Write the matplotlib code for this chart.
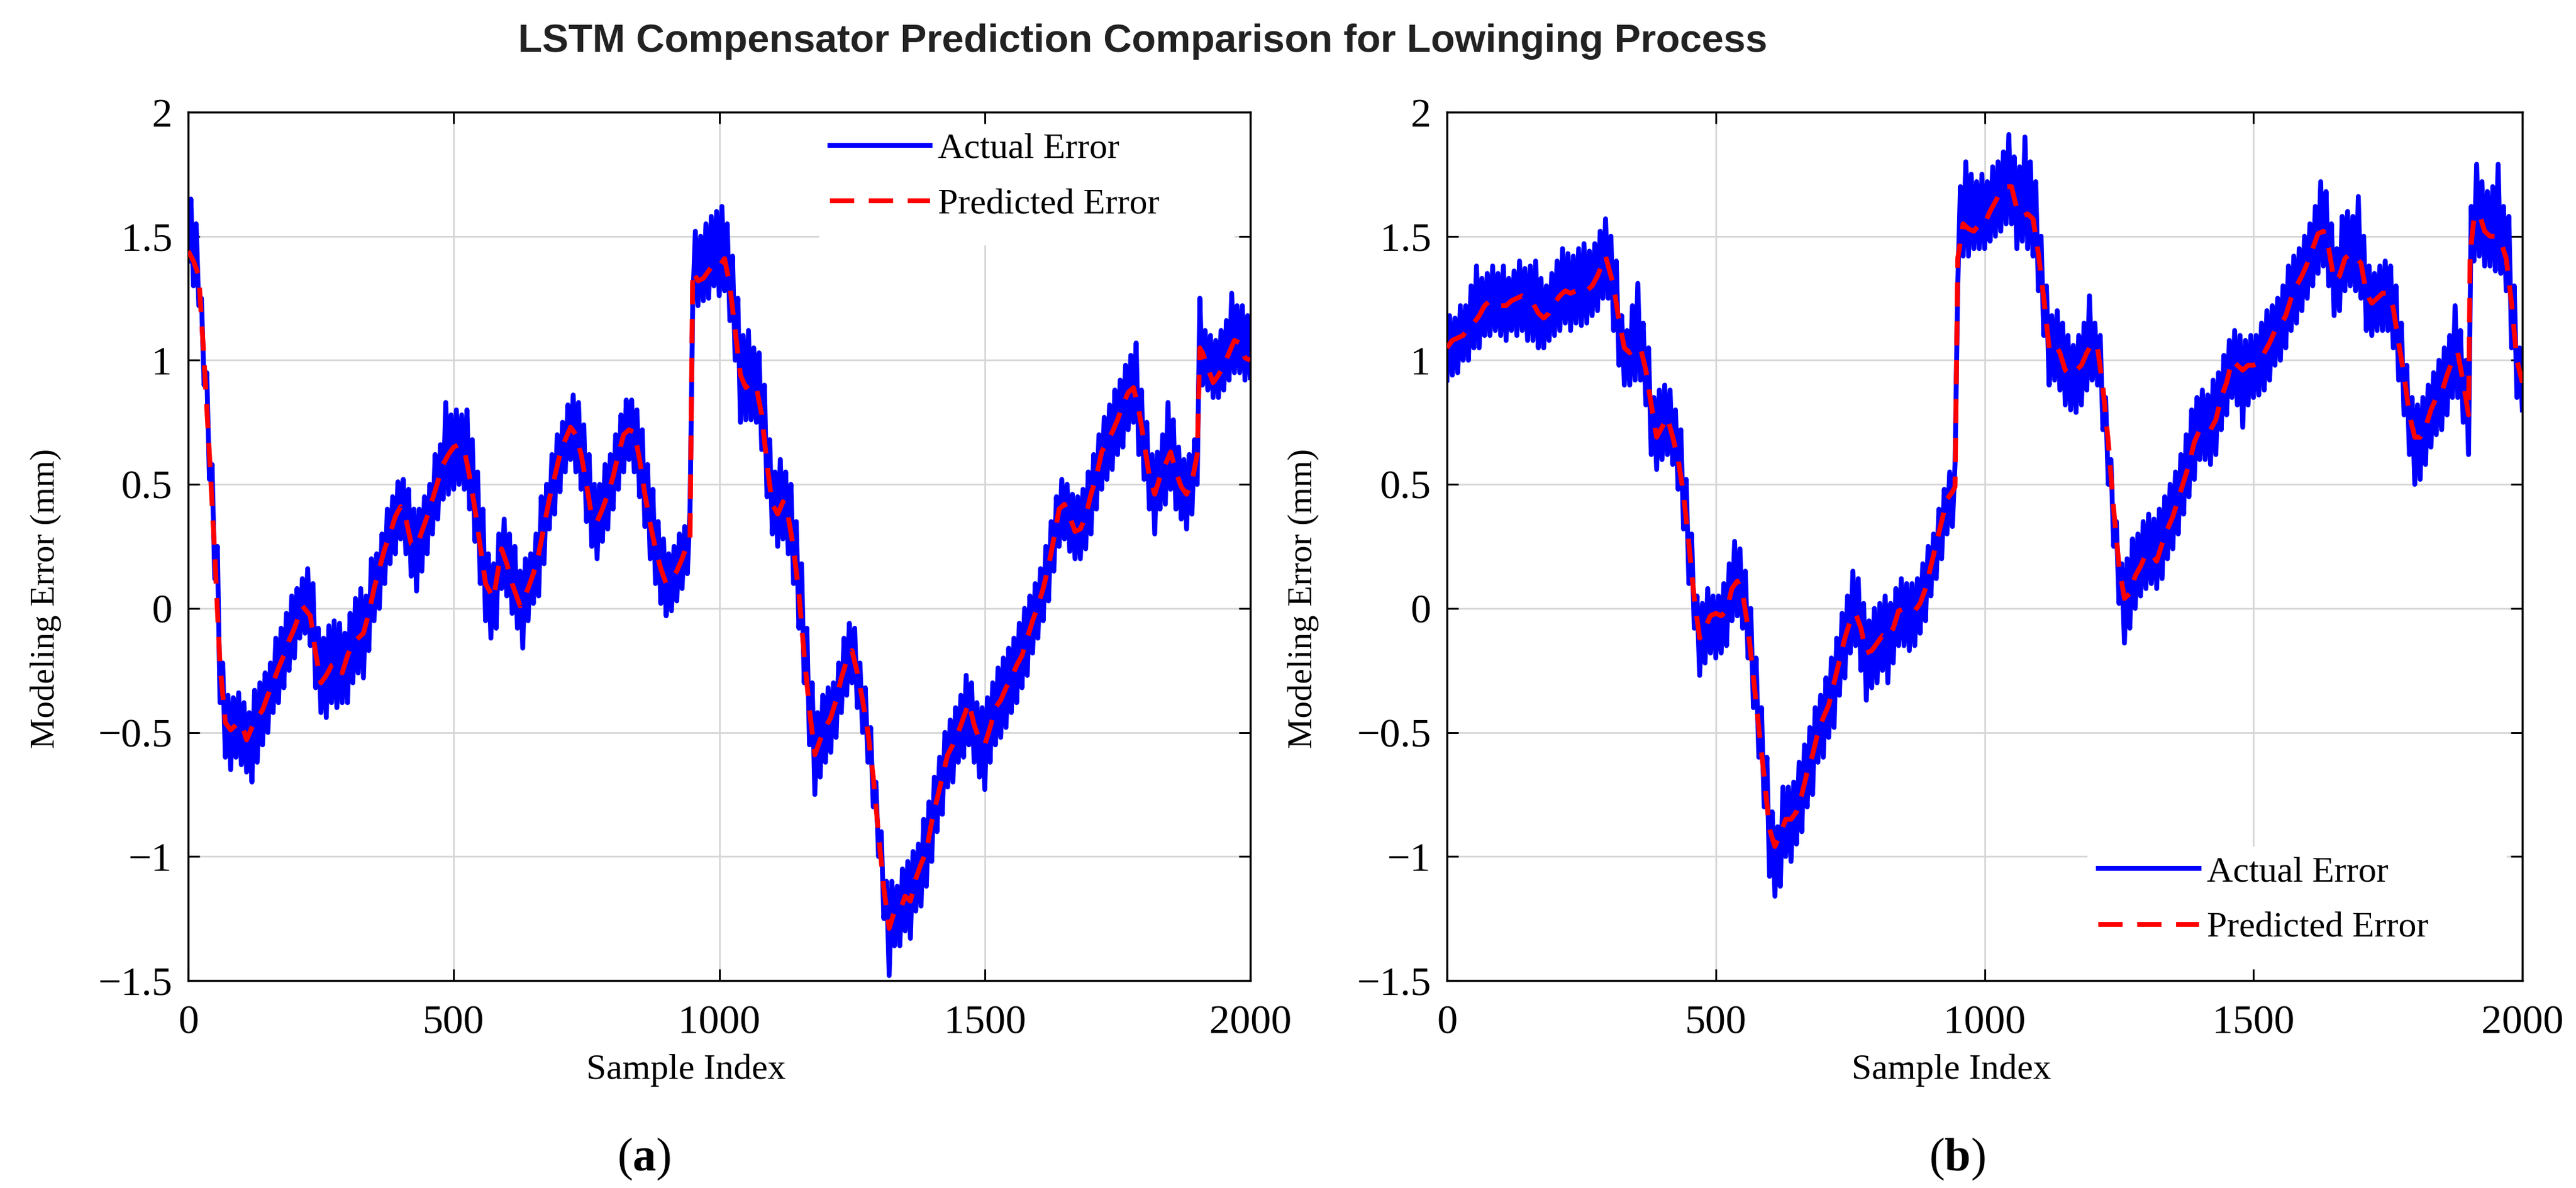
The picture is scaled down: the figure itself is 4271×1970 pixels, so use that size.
import numpy as np
import matplotlib
matplotlib.use('Agg')
import matplotlib.pyplot as plt
from matplotlib.patches import Rectangle
from matplotlib.ticker import FuncFormatter

plt.rcParams['font.family'] = ['Liberation Serif', 'DejaVu Serif']
plt.rcParams['mathtext.fontset'] = 'custom'
plt.rcParams['mathtext.rm'] = 'Liberation Serif'
plt.rcParams['mathtext.bf'] = 'Liberation Serif:bold'

title = 'LSTM Compensator Prediction Comparison for Lowinging Process'
x_ticks = [0, 500, 1000, 1500, 2000]
y_ticks = [-1.5, -1, -0.5, 0, 0.5, 1, 1.5, 2]

# actual error: the noisy trace swings between the lower edge of its band
# (read at samples 0, 10, 20, ...) and the upper edge (samples 5, 15, 25, ...)
actual_a_lo = [
    1.40, 1.30, 1.22, 0.90, 0.52, 0.12, -0.38, -0.60, -0.65, -0.60,
    -0.63, -0.66, -0.70, -0.62, -0.55, -0.50, -0.42, -0.38, -0.32, -0.25,
    -0.20, -0.12, -0.10, -0.15, -0.32, -0.42, -0.44, -0.38, -0.40, -0.38,
    -0.38, -0.30, -0.26, -0.28, -0.17, -0.05, 0.00, 0.10, 0.18, 0.22,
    0.28, 0.22, 0.13, 0.07, 0.15, 0.22, 0.30, 0.36, 0.44, 0.46,
    0.48, 0.50, 0.48, 0.40, 0.27, 0.10, -0.05, -0.12, -0.08, 0.08,
    0.05, -0.02, -0.08, -0.16, -0.05, 0.02, 0.05, 0.18, 0.32, 0.38,
    0.47, 0.55, 0.60, 0.55, 0.48, 0.35, 0.25, 0.20, 0.27, 0.32,
    0.40, 0.48, 0.55, 0.60, 0.55, 0.45, 0.33, 0.20, 0.10, 0.02,
    -0.03, -0.01, 0.03, 0.08, 0.14, 1.22, 1.22, 1.24, 1.25, 1.30,
    1.26, 1.28, 1.16, 1.00, 0.75, 0.76, 0.76, 0.75, 0.64, 0.45,
    0.30, 0.25, 0.28, 0.22, 0.10, -0.08, -0.30, -0.55, -0.75, -0.68,
    -0.62, -0.58, -0.52, -0.42, -0.35, -0.30, -0.40, -0.50, -0.62, -0.80,
    -1.00, -1.25, -1.48, -1.36, -1.36, -1.30, -1.33, -1.22, -1.20, -1.12,
    -1.02, -0.90, -0.83, -0.72, -0.70, -0.62, -0.60, -0.55, -0.62, -0.68,
    -0.73, -0.62, -0.55, -0.52, -0.48, -0.42, -0.38, -0.32, -0.27, -0.18,
    -0.12, -0.05, 0.03, 0.15, 0.25, 0.28, 0.23, 0.20, 0.20, 0.24,
    0.30, 0.40, 0.48, 0.52, 0.56, 0.62, 0.65, 0.72, 0.75, 0.62,
    0.52, 0.40, 0.30, 0.40, 0.42, 0.48, 0.40, 0.36, 0.32, 0.38,
    0.50, 0.90, 0.88, 0.85, 0.85, 0.88, 0.92, 0.95, 0.95, 0.92,
    0.93,
]
actual_a_hi = [
    1.65, 1.55, 1.25, 0.95, 0.58, 0.25, -0.22, -0.35, -0.36, -0.34,
    -0.38, -0.42, -0.33, -0.30, -0.26, -0.22, -0.12, -0.08, -0.02, 0.05,
    0.08, 0.12, 0.16, 0.10, -0.08, -0.12, -0.07, -0.05, -0.06, -0.10,
    -0.02, 0.04, 0.08, 0.05, 0.20, 0.22, 0.30, 0.40, 0.45, 0.51,
    0.52, 0.48, 0.40, 0.40, 0.45, 0.50, 0.62, 0.66, 0.83, 0.78,
    0.80, 0.78, 0.80, 0.68, 0.55, 0.40, 0.22, 0.18, 0.30, 0.36,
    0.30, 0.25, 0.15, 0.20, 0.22, 0.30, 0.45, 0.50, 0.62, 0.70,
    0.75, 0.82, 0.86, 0.83, 0.74, 0.62, 0.50, 0.50, 0.58, 0.62,
    0.70, 0.78, 0.84, 0.84, 0.80, 0.72, 0.58, 0.48, 0.35, 0.28,
    0.22, 0.25, 0.30, 0.33, 0.40, 1.52, 1.50, 1.55, 1.58, 1.60,
    1.62, 1.55, 1.42, 1.25, 1.10, 1.12, 1.05, 1.03, 0.90, 0.68,
    0.55, 0.60, 0.55, 0.50, 0.35, 0.18, -0.08, -0.30, -0.42, -0.35,
    -0.32, -0.30, -0.22, -0.12, -0.06, -0.08, -0.22, -0.32, -0.48, -0.70,
    -0.90, -1.10, -1.10, -1.12, -1.05, -1.02, -0.98, -0.95, -0.85, -0.78,
    -0.68, -0.60, -0.50, -0.45, -0.40, -0.35, -0.27, -0.30, -0.38, -0.40,
    -0.36, -0.30, -0.24, -0.20, -0.16, -0.12, -0.06, 0.00, 0.05, 0.10,
    0.16, 0.25, 0.35, 0.45, 0.52, 0.50, 0.46, 0.45, 0.48, 0.55,
    0.62, 0.70, 0.77, 0.82, 0.88, 0.92, 0.98, 1.02, 1.07, 0.88,
    0.75, 0.62, 0.63, 0.70, 0.83, 0.76, 0.65, 0.60, 0.62, 0.68,
    1.25, 1.12, 1.10, 1.08, 1.12, 1.16, 1.27, 1.22, 1.22, 1.18,
]

actual_b_lo = [
    0.92, 0.94, 0.95, 1.00, 1.00, 1.05, 1.05, 1.10, 1.10, 1.12,
    1.10, 1.08, 1.12, 1.10, 1.12, 1.08, 1.08, 1.05, 1.05, 1.08,
    1.10, 1.12, 1.15, 1.12, 1.15, 1.14, 1.15, 1.18, 1.20, 1.25,
    1.25, 1.12, 0.98, 0.90, 0.90, 0.92, 0.92, 0.82, 0.62, 0.56,
    0.60, 0.62, 0.58, 0.48, 0.32, 0.10, -0.08, -0.27, -0.22, -0.18,
    -0.20, -0.18, -0.15, -0.05, -0.03, -0.08, -0.20, -0.40, -0.60, -0.80,
    -1.08, -1.16, -1.12, -1.00, -1.02, -0.95, -0.90, -0.80, -0.75, -0.62,
    -0.60, -0.52, -0.48, -0.35, -0.28, -0.18, -0.15, -0.25, -0.37, -0.32,
    -0.30, -0.25, -0.30, -0.22, -0.15, -0.15, -0.17, -0.15, -0.10, -0.05,
    0.05, 0.12, 0.20, 0.30, 0.33, 1.30, 1.42, 1.42, 1.45, 1.45,
    1.45, 1.48, 1.50, 1.52, 1.55, 1.55, 1.45, 1.48, 1.45, 1.42,
    1.28, 1.10, 0.90, 0.92, 0.88, 0.82, 0.80, 0.79, 0.82, 0.88,
    0.92, 0.90, 0.72, 0.50, 0.25, 0.02, -0.14, -0.08, 0.00, 0.05,
    0.08, 0.10, 0.08, 0.12, 0.20, 0.24, 0.30, 0.38, 0.45, 0.52,
    0.60, 0.60, 0.58, 0.62, 0.72, 0.78, 0.85, 0.82, 0.73, 0.82,
    0.85, 0.86, 0.88, 0.92, 0.98, 1.00, 1.05, 1.12, 1.15, 1.20,
    1.25, 1.30, 1.35, 1.38, 1.30, 1.18, 1.20, 1.28, 1.30, 1.28,
    1.25, 1.12, 1.10, 1.12, 1.12, 1.12, 1.05, 0.92, 0.78, 0.62,
    0.50, 0.52, 0.58, 0.65, 0.70, 0.72, 0.78, 0.85, 0.85, 0.75,
    0.62, 1.40, 1.42, 1.38, 1.38, 1.36, 1.35, 1.28, 1.05, 0.85,
    0.80,
]
actual_b_hi = [
    1.18, 1.17, 1.22, 1.22, 1.30, 1.38, 1.33, 1.35, 1.38, 1.35,
    1.38, 1.33, 1.36, 1.40, 1.37, 1.38, 1.40, 1.33, 1.30, 1.35,
    1.40, 1.45, 1.43, 1.42, 1.45, 1.47, 1.44, 1.47, 1.52, 1.57,
    1.50, 1.40, 1.18, 1.12, 1.22, 1.31, 1.15, 1.05, 0.85, 0.88,
    0.90, 0.88, 0.80, 0.72, 0.52, 0.30, 0.05, 0.02, 0.08, 0.05,
    0.05, 0.10, 0.18, 0.27, 0.24, 0.15, 0.00, -0.20, -0.40, -0.60,
    -0.82, -0.88, -0.72, -0.72, -0.70, -0.62, -0.55, -0.48, -0.40, -0.35,
    -0.28, -0.20, -0.12, -0.02, 0.05, 0.15, 0.12, 0.02, -0.05, 0.00,
    0.02, 0.05, 0.02, 0.08, 0.12, 0.10, 0.10, 0.12, 0.18, 0.25,
    0.30, 0.40, 0.48, 0.55, 0.58, 1.70, 1.80, 1.75, 1.72, 1.75,
    1.72, 1.78, 1.80, 1.84, 1.91, 1.82, 1.78, 1.90, 1.80, 1.72,
    1.50, 1.30, 1.18, 1.20, 1.15, 1.10, 1.06, 1.10, 1.15, 1.26,
    1.15, 1.10, 0.85, 0.60, 0.35, 0.18, 0.20, 0.28, 0.30, 0.35,
    0.38, 0.36, 0.40, 0.45, 0.50, 0.55, 0.62, 0.70, 0.80, 0.85,
    0.88, 0.86, 0.92, 0.95, 1.02, 1.08, 1.12, 1.10, 1.08, 1.10,
    1.10, 1.15, 1.20, 1.22, 1.25, 1.30, 1.38, 1.42, 1.45, 1.50,
    1.55, 1.62, 1.72, 1.68, 1.55, 1.45, 1.58, 1.60, 1.58, 1.66,
    1.50, 1.38, 1.35, 1.38, 1.40, 1.38, 1.30, 1.15, 0.98, 0.85,
    0.82, 0.85, 0.90, 0.95, 1.00, 1.05, 1.10, 1.22, 1.12, 1.00,
    1.62, 1.79, 1.72, 1.68, 1.70, 1.79, 1.62, 1.58, 1.30, 1.05,
]

# predicted error (sample, value)
pred_a = [
    (0, 1.44), (10, 1.40), (20, 1.34), (30, 1.00), (40, 0.62), (50, 0.22), (60, -0.23),
    (70, -0.46), (80, -0.49), (90, -0.47), (100, -0.46), (110, -0.53), (120, -0.48),
    (130, -0.44), (140, -0.41), (150, -0.35), (160, -0.30), (170, -0.24), (180, -0.19),
    (190, -0.13), (200, -0.08), (215, 0.01), (230, -0.03), (240, -0.18), (250, -0.30),
    (260, -0.27), (270, -0.23), (280, -0.22), (290, -0.26), (300, -0.19), (310, -0.14),
    (320, -0.12), (330, -0.10), (340, -0.02), (350, 0.08), (360, 0.16), (370, 0.24),
    (380, 0.30), (390, 0.37), (400, 0.41), (410, 0.36), (420, 0.26), (430, 0.25),
    (440, 0.31), (450, 0.37), (460, 0.44), (470, 0.51), (480, 0.58), (490, 0.62),
    (500, 0.65), (510, 0.66), (520, 0.64), (530, 0.53), (540, 0.40), (550, 0.25),
    (560, 0.10), (575, 0.04), (590, 0.24), (600, 0.18), (610, 0.10), (625, 0.01),
    (640, 0.08), (650, 0.14), (660, 0.22), (670, 0.33), (680, 0.44), (690, 0.53),
    (700, 0.62), (710, 0.68), (720, 0.73), (730, 0.70), (740, 0.62), (750, 0.50),
    (760, 0.37), (770, 0.35), (780, 0.40), (790, 0.46), (800, 0.53), (810, 0.62),
    (820, 0.70), (830, 0.72), (840, 0.71), (850, 0.60), (860, 0.46), (870, 0.34),
    (880, 0.24), (890, 0.16), (900, 0.10), (910, 0.12), (920, 0.15), (930, 0.20),
    (940, 0.26), (945, 0.28), (950, 1.36), (960, 1.32), (970, 1.33), (980, 1.36),
    (990, 1.39), (1000, 1.38), (1010, 1.41), (1020, 1.30), (1030, 1.12), (1040, 0.94),
    (1050, 0.89), (1060, 0.91), (1070, 0.89), (1080, 0.78), (1090, 0.58), (1100, 0.42),
    (1110, 0.38), (1120, 0.43), (1130, 0.37), (1140, 0.24), (1150, 0.06), (1160, -0.19),
    (1170, -0.41), (1180, -0.59), (1190, -0.53), (1200, -0.48), (1210, -0.44),
    (1220, -0.37), (1230, -0.28), (1240, -0.21), (1250, -0.17), (1260, -0.26),
    (1270, -0.37), (1280, -0.50), (1290, -0.68), (1300, -0.91), (1310, -1.13),
    (1320, -1.29), (1330, -1.22), (1340, -1.22), (1350, -1.16), (1360, -1.18),
    (1370, -1.09), (1380, -1.03), (1390, -0.98), (1400, -0.86), (1410, -0.77),
    (1420, -0.68), (1430, -0.59), (1440, -0.55), (1450, -0.50), (1460, -0.44),
    (1470, -0.38), (1480, -0.47), (1490, -0.53), (1500, -0.55), (1510, -0.48),
    (1520, -0.40), (1530, -0.37), (1540, -0.32), (1550, -0.28), (1560, -0.23),
    (1570, -0.19), (1580, -0.12), (1590, -0.05), (1600, 0.01), (1610, 0.08),
    (1620, 0.17), (1630, 0.28), (1640, 0.40), (1650, 0.42), (1660, 0.37), (1670, 0.31),
    (1680, 0.32), (1690, 0.37), (1700, 0.46), (1710, 0.53), (1720, 0.63), (1730, 0.67),
    (1740, 0.71), (1750, 0.76), (1760, 0.82), (1770, 0.87), (1780, 0.89), (1790, 0.80),
    (1800, 0.67), (1810, 0.53), (1820, 0.46), (1830, 0.53), (1840, 0.58), (1850, 0.63),
    (1860, 0.55), (1870, 0.49), (1880, 0.46), (1890, 0.51), (1900, 0.62), (1905, 1.05),
    (1910, 1.03), (1920, 0.97), (1930, 0.91), (1940, 0.94), (1950, 0.98), (1960, 1.03),
    (1970, 1.08), (1980, 1.07), (1990, 1.01), (2000, 1.00),
]

pred_b = [
    (0, 1.05), (10, 1.08), (20, 1.09), (30, 1.10), (40, 1.13), (50, 1.15), (60, 1.18),
    (70, 1.22), (80, 1.24), (90, 1.23), (100, 1.22), (110, 1.22), (120, 1.24), (130, 1.25),
    (140, 1.26), (150, 1.25), (160, 1.23), (170, 1.19), (180, 1.17), (190, 1.19),
    (200, 1.23), (210, 1.26), (220, 1.28), (230, 1.27), (240, 1.28), (250, 1.27),
    (260, 1.28), (270, 1.30), (280, 1.34), (295, 1.42), (310, 1.30), (320, 1.16),
    (330, 1.05), (340, 1.03), (350, 1.05), (360, 1.05), (370, 0.96), (380, 0.82),
    (390, 0.69), (400, 0.73), (410, 0.77), (420, 0.69), (430, 0.60), (440, 0.46),
    (450, 0.26), (460, 0.04), (470, -0.12), (480, -0.08), (490, -0.03), (500, -0.02),
    (510, -0.03), (520, -0.01), (530, 0.08), (540, 0.11), (550, 0.06), (560, -0.08),
    (570, -0.28), (580, -0.48), (590, -0.68), (600, -0.89), (610, -0.96), (620, -0.91),
    (630, -0.85), (640, -0.85), (650, -0.82), (660, -0.75), (670, -0.66), (680, -0.59),
    (690, -0.50), (700, -0.44), (710, -0.39), (720, -0.30), (730, -0.21), (740, -0.12),
    (750, -0.05), (760, -0.02), (770, -0.08), (780, -0.18), (790, -0.17), (800, -0.14),
    (810, -0.11), (820, -0.12), (830, -0.08), (840, -0.01), (850, 0.00), (860, -0.01),
    (870, -0.01), (880, 0.02), (890, 0.08), (900, 0.17), (910, 0.26), (920, 0.35),
    (930, 0.44), (940, 0.47), (945, 0.49), (950, 1.41), (960, 1.55), (970, 1.53),
    (980, 1.52), (990, 1.55), (1000, 1.55), (1010, 1.60), (1020, 1.64), (1030, 1.68),
    (1040, 1.70), (1050, 1.70), (1060, 1.61), (1070, 1.58), (1080, 1.59), (1090, 1.57),
    (1100, 1.43), (1110, 1.25), (1120, 1.05), (1130, 1.07), (1140, 1.03), (1150, 0.96),
    (1160, 0.94), (1170, 0.96), (1180, 0.98), (1190, 1.03), (1200, 1.07), (1210, 1.05),
    (1220, 0.89), (1230, 0.67), (1240, 0.40), (1250, 0.17), (1260, 0.04), (1270, 0.06),
    (1280, 0.13), (1290, 0.17), (1300, 0.22), (1310, 0.22), (1320, 0.19), (1330, 0.26),
    (1340, 0.32), (1350, 0.37), (1360, 0.44), (1370, 0.51), (1380, 0.58), (1390, 0.67),
    (1400, 0.72), (1410, 0.73), (1420, 0.72), (1430, 0.76), (1440, 0.85), (1450, 0.91),
    (1460, 1.00), (1470, 0.98), (1480, 0.96), (1490, 0.98), (1500, 0.98), (1510, 0.99),
    (1520, 1.03), (1530, 1.07), (1540, 1.12), (1550, 1.14), (1560, 1.18), (1570, 1.25),
    (1580, 1.30), (1590, 1.34), (1600, 1.39), (1610, 1.45), (1620, 1.51), (1630, 1.52),
    (1640, 1.45), (1650, 1.32), (1660, 1.34), (1670, 1.41), (1680, 1.43), (1690, 1.42),
    (1700, 1.39), (1710, 1.27), (1720, 1.23), (1730, 1.25), (1740, 1.27), (1750, 1.27),
    (1760, 1.21), (1770, 1.07), (1780, 0.94), (1790, 0.78), (1800, 0.69), (1810, 0.69),
    (1820, 0.73), (1830, 0.80), (1840, 0.85), (1850, 0.87), (1860, 0.94), (1870, 1.00),
    (1880, 1.03), (1890, 0.91), (1900, 0.78), (1903, 1.43), (1910, 1.57), (1920, 1.59),
    (1930, 1.52), (1940, 1.50), (1950, 1.50), (1960, 1.48), (1970, 1.41), (1980, 1.23),
    (1990, 1.00), (2000, 0.91),
]

W, H = 4271, 1970
fig = plt.figure(figsize=(W / 100, H / 100), dpi=100)

grid_col = '#d6d6d6'


def fmt(v, pos):
    return ('%g' % v).replace('-', '\u2212')


def zigzag(lo, hi):
    # interleave low edge (0, 10, ...) and high edge (5, 15, ...) into one trace
    n = len(lo) + len(hi)
    x = np.empty(n)
    y = np.empty(n)
    x[0::2] = np.arange(len(lo)) * 10
    x[1::2] = np.arange(len(hi)) * 10 + 5
    y[0::2] = lo
    y[1::2] = hi
    return x, y


def draw_panel(rect, lo, hi, pred, leg_box, leg_anchor, xlab_x):
    ax = fig.add_axes(rect)
    ax_x, ax_y = zigzag(lo, hi)
    px = [p[0] for p in pred]
    py = [p[1] for p in pred]
    # grid drawn by hand so the legend box can hide it but not the ticks
    for xt in x_ticks[1:-1]:
        ax.axvline(xt, color=grid_col, lw=2.0, zorder=0.5)
    for yt in y_ticks[1:-1]:
        ax.axhline(yt, color=grid_col, lw=2.0, zorder=0.5)
    ax.add_patch(Rectangle((leg_box[0], leg_box[1]), leg_box[2], leg_box[3],
                           transform=ax.transAxes, facecolor='white',
                           edgecolor='none', zorder=1))
    ax.plot(ax_x, ax_y, color=(0, 0, 1), lw=5.8, zorder=2, label='Actual Error')
    ax.plot(px, py, color=(1, 0, 0), lw=5.8, dashes=(5, 3), zorder=3,
            label='Predicted Error')
    ax.set_xlim(0, 2000)
    ax.set_ylim(-1.5, 2)
    ax.set_xticks(x_ticks)
    ax.set_yticks(y_ticks)
    ax.yaxis.set_major_formatter(FuncFormatter(fmt))
    ax.tick_params(direction='in', length=13.7, width=2.2, top=True, right=True,
                   labelsize=49, colors='black')
    ax.tick_params(axis='x', pad=29)
    ax.tick_params(axis='y', pad=19)
    for s in ax.spines.values():
        s.set_linewidth(2.5)
    ax.set_xlabel('Sample Index', fontsize=43)
    ax.xaxis.set_label_coords(xlab_x, -0.0847)
    ax.set_ylabel('Modeling Error (mm)', fontsize=41)
    ax.yaxis.set_label_coords(-0.119, 0.44)
    ax.legend(loc='upper left', bbox_to_anchor=leg_anchor, frameon=False,
              fontsize=43, handlelength=2.78, handletextpad=0.22,
              labelspacing=0.63, borderpad=0, borderaxespad=0)
    return ax


ax_a = draw_panel([312 / W, 1 - 1626 / H, 1761 / W, 1440 / H], actual_a_lo, actual_a_hi,
                  pred_a, (0.594, 0.8465, 0.391, 0.1535), (0.604, 0.9765), 0.4685)
ax_b = draw_panel([2399 / W, 1 - 1626 / H, 1783 / W, 1440 / H], actual_b_lo, actual_b_hi,
                  pred_b, (0.5956, 0.0, 0.39, 0.154), (0.606, 0.1435), 0.469)

fig.text(1895 / W, 1 - 86 / H, title, ha='center', va='baseline', fontsize=47,
         fontweight='bold', family='Liberation Sans', color='#222222')
fig.text(1068 / W, 1 - 1941 / H, r'($\mathbf{a}$)', ha='center', va='baseline', fontsize=56)
fig.text(3245 / W, 1 - 1941 / H, r'($\mathbf{b}$)', ha='center', va='baseline', fontsize=56)

fig.savefig('out.png', dpi=100)
